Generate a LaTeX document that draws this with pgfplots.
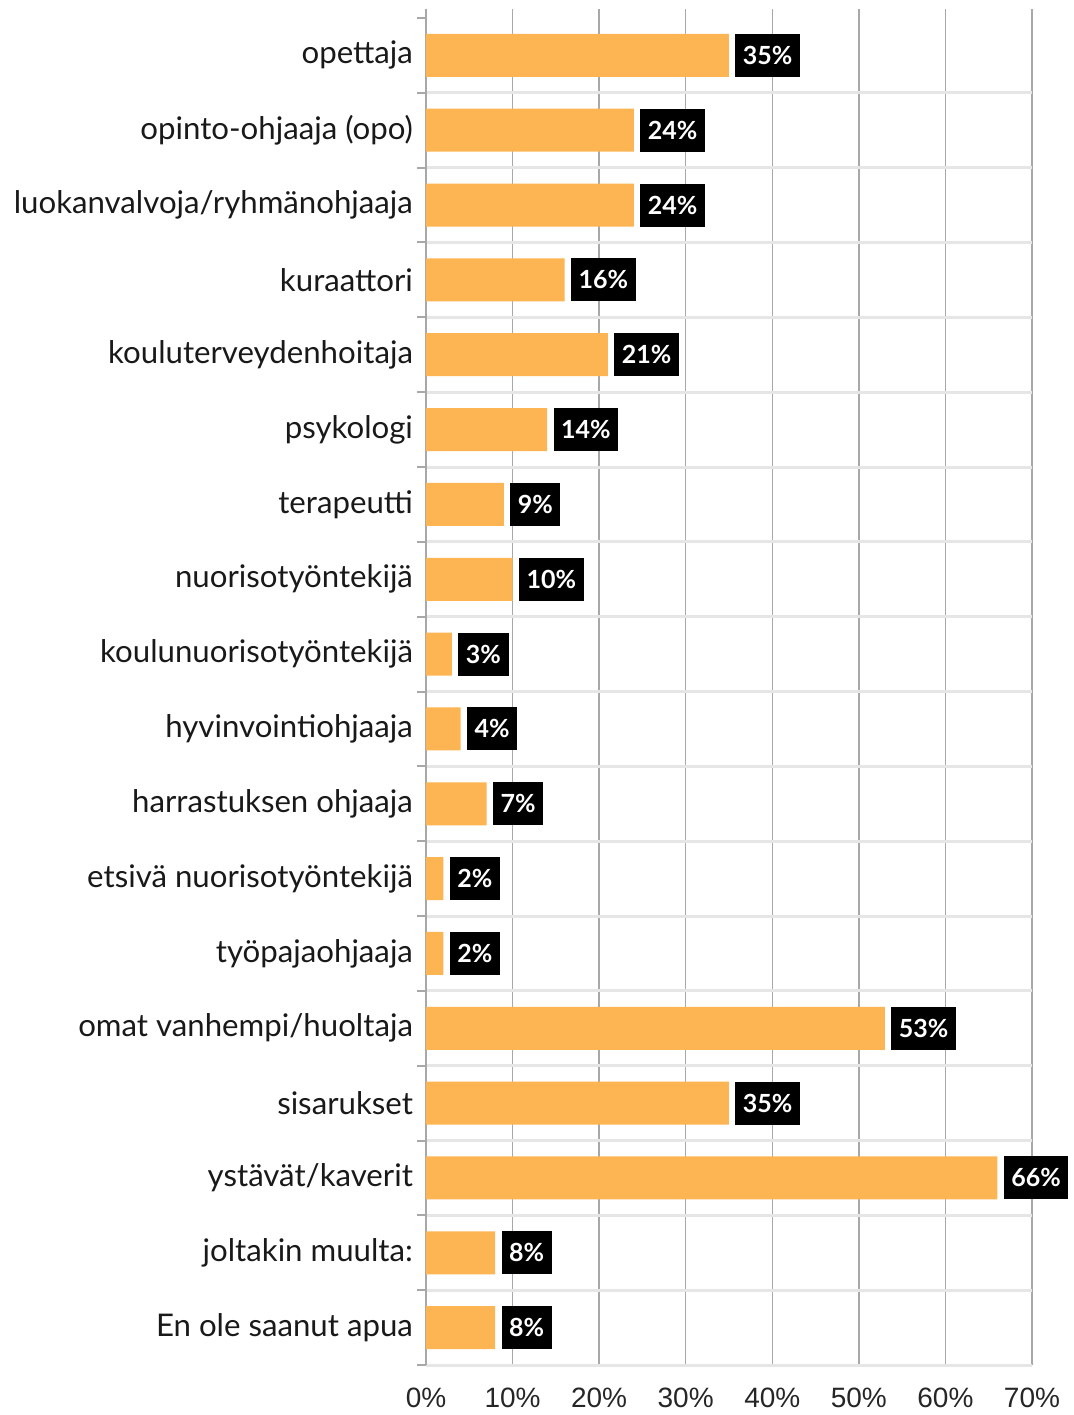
\documentclass[border=0pt]{standalone}
\usepackage{fontspec}
\setmainfont{Lato}
\newfontfamily\tickfont{Liberation Sans}
\usepackage{pgfplots}
\pgfplotsset{compat=1.18}
\definecolor{barorange}{HTML}{FDB452}
\definecolor{sepgray}{HTML}{E6E6E6}
\definecolor{gridgray}{HTML}{A8A8A8}

\begin{document}
\begin{tikzpicture}
\begin{axis}[
  name=ax,
  scale only axis, width=303pt, height=678pt,
  /pgf/number format/assume math mode=true,
  xbar, bar width=21.5pt,
  xmin=0, xmax=70, ymin=-0.62, ymax=17.5, y dir=reverse,
  clip=false,
  axis y line*=left, axis x line*=bottom,
  x axis line style={draw=none},
  y axis line style={draw=gridgray, line width=1pt},
  tick align=outside, major tick length=0pt, minor tick length=4.5pt,
  xtick={0,10,...,70},
  xticklabel={\pgfmathprintnumber{\tick}\%},
  xticklabel style={font=\tickfont\fontsize{14}{14}\selectfont, text=black!85, yshift=-8pt},
  major x tick style={draw=none},
  xmajorgrids, major x grid style={gridgray, line width=0.75pt},
  ytick={0,...,17},
  yticklabels={opettaja, opinto-ohjaaja (opo), luokanvalvoja/ryhmänohjaaja,
    kuraattori, kouluterveydenhoitaja, psykologi, terapeutti,
    nuorisotyöntekijä, koulunuorisotyöntekijä, hyvinvointiohjaaja,
    harrastuksen ohjaaja, etsivä nuorisotyöntekijä, työpajaohjaaja,
    omat vanhempi/huoltaja, sisarukset, ystävät/kaverit,
    joltakin muulta:, En ole saanut apua},
  yticklabel style={font=\fontsize{15.6}{16}\selectfont, text=black!90, xshift=-3pt},
  major y tick style={draw=none},
  minor ytick={0.5,1.5,...,17.5},
  minor y tick style={draw=gridgray, line width=1pt},
  yminorgrids, minor y grid style={sepgray, line width=1.5pt},
  extra y ticks={-0.5}, extra y tick labels={},
  extra y tick style={grid=none, major tick length=4.5pt,
    major y tick style={draw=gridgray, line width=1pt}},
  point meta=x,
  nodes near coords={\pgfmathprintnumber{\pgfplotspointmeta}\%},
  nodes near coords style={fill=black, text=white,
    font=\bfseries\fontsize{12.5}{13}\selectfont, anchor=west,
    inner xsep=3.8pt, inner ysep=0pt, minimum height=21.5pt, xshift=3pt},
]
\addplot[fill=barorange, draw=none] coordinates {
  (35,0) (24,1) (24,2) (16,3) (21,4) (14,5) (9,6) (10,7) (3,8)
  (4,9) (7,10) (2,11) (2,12) (53,13) (35,14) (66,15) (8,16) (8,17)};
\end{axis}
\pgfresetboundingbox
\path[use as bounding box] ([shift={(-213pt,-25pt)}]ax.south west)
  rectangle ([shift={(21pt,4.5pt)}]ax.north east);
\end{tikzpicture}
\end{document}
